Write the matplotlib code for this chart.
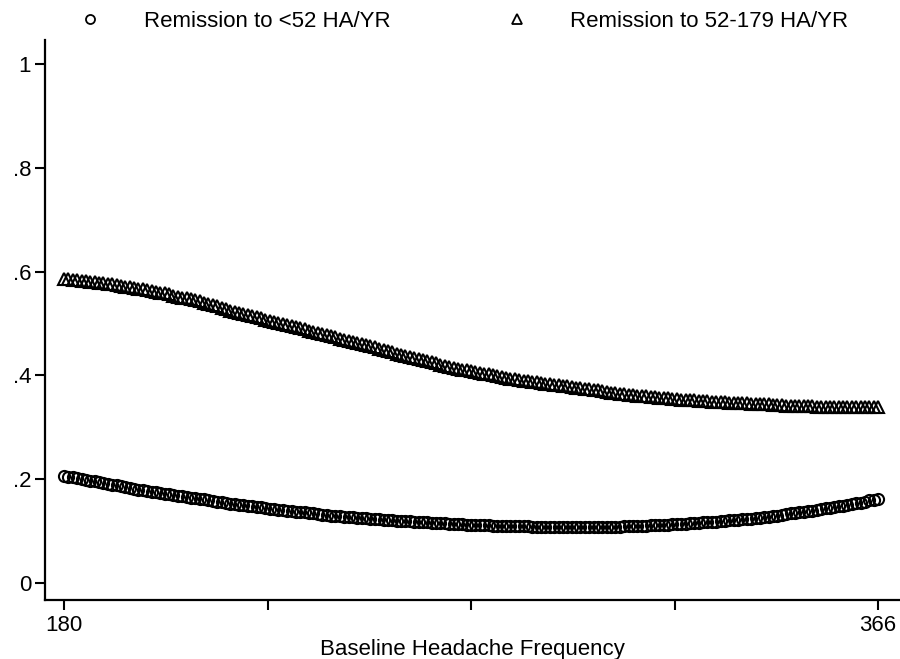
import numpy as np
import matplotlib.pyplot as plt
from matplotlib.lines import Line2D

plt.rcParams['font.family'] = ['Liberation Sans', 'DejaVu Sans']

# baseline headache frequency, one point per day count
freq = np.arange(180, 367)

# predicted probability, remission to 52-179 HA/YR (triangles)
remit_mid = [
    .586, .585, .584, .583, .582, .582, .581, .580, .579, .578,
    .577, .576, .574, .573, .571, .570, .569, .567, .566, .564,
    .563, .561, .559, .558, .556, .554, .552, .550, .549, .547,
    .545, .543, .540, .538, .535, .533, .530, .528, .525, .523,
    .520, .518, .516, .514, .512, .510, .507, .505, .503, .501,
    .499, .497, .495, .493, .491, .489, .486, .484, .482, .480,
    .478, .476, .474, .471, .469, .467, .465, .463, .460, .458,
    .456, .454, .451, .449, .447, .445, .442, .440, .438, .435,
    .433, .431, .429, .427, .425, .423, .421, .419, .417, .415,
    .413, .411, .410, .408, .407, .405, .403, .402, .400, .399,
    .397, .396, .394, .393, .392, .390, .389, .388, .387, .385,
    .384, .383, .382, .381, .380, .379, .377, .376, .375, .374,
    .373, .372, .371, .370, .369, .367, .366, .365, .364, .363,
    .362, .361, .360, .360, .359, .358, .357, .356, .356, .355,
    .354, .353, .353, .352, .352, .351, .350, .350, .349, .349,
    .348, .348, .347, .347, .346, .346, .346, .345, .345, .344,
    .344, .344, .343, .343, .343, .342, .342, .342, .341, .341,
    .341, .341, .340, .340, .340, .340, .340, .339, .339, .339,
    .339, .339, .339, .339, .339, .339, .339,
]

# predicted probability, remission to <52 HA/YR (circles)
remit_low = [
    .207, .205, .204, .202, .201, .199, .197, .196, .194, .192,
    .191, .189, .188, .186, .185, .183, .182, .180, .179, .177,
    .176, .175, .173, .172, .171, .170, .168, .167, .166, .164,
    .163, .162, .161, .159, .158, .157, .156, .155, .153, .152,
    .151, .150, .149, .148, .147, .146, .144, .143, .142, .141,
    .140, .139, .138, .137, .136, .136, .135, .134, .133, .132,
    .131, .130, .130, .129, .128, .128, .127, .126, .125, .125,
    .124, .123, .123, .122, .122, .121, .120, .120, .119, .119,
    .118, .118, .117, .117, .116, .116, .115, .115, .114, .114,
    .113, .113, .112, .112, .112, .111, .111, .111, .110, .110,
    .110, .110, .110, .109, .109, .109, .109, .108, .108, .108,
    .108, .108, .108, .108, .107, .107, .107, .107, .107, .107,
    .107, .107, .107, .107, .108, .108, .108, .108, .109, .109,
    .109, .109, .110, .110, .111, .111, .111, .112, .112, .113,
    .113, .114, .114, .115, .115, .116, .117, .117, .118, .118,
    .119, .120, .121, .121, .122, .123, .124, .124, .125, .126,
    .127, .128, .129, .130, .131, .133, .134, .135, .136, .137,
    .138, .139, .141, .142, .144, .145, .146, .148, .149, .151,
    .152, .154, .155, .157, .159, .160, .162,
]

yticks = [0, .2, .4, .6, .8, 1]
ylabels = ["0", ".2", ".4", ".6", ".8", "1"]
xticks = [180, 226.5, 273, 319.5, 366]
xlabels = ["180", "", "", "", "366"]

fig = plt.figure(figsize=(9, 6.59), dpi=100)
ax = fig.add_axes([0.05, 0.0895, 0.95, 0.8495])

ax.plot(freq, remit_low, ls='none', marker='o', ms=8, mfc='none', mec='black', mew=1.5)
ax.plot(freq, remit_mid, ls='none', marker='^', ms=8, mfc='none', mec='black', mew=1.5)

ax.set_xlim(175.66, 371.0)
ax.set_ylim(-0.0328, 1.046)
ax.set_yticks(yticks)
ax.set_yticklabels(ylabels)
ax.set_xticks(xticks)
ax.set_xticklabels(xlabels)
ax.tick_params(axis='both', length=7, width=1.5, labelsize=16, direction='out', pad=3)
ax.tick_params(axis='x', pad=4)
ax.set_xlabel("Baseline Headache Frequency", fontsize=16, labelpad=2)

for s in ['top', 'right']:
    ax.spines[s].set_visible(False)
for s in ['left', 'bottom']:
    ax.spines[s].set_linewidth(1.6)

handles = [
    Line2D([], [], ls='none', marker='o', ms=6.5, mfc='none', mec='black', mew=1.3),
    Line2D([], [], ls='none', marker='^', ms=6.5, mfc='none', mec='black', mew=1.3),
]
fig.legend(handles, ["Remission to <52 HA/YR", "Remission to 52-179 HA/YR"],
           loc='upper left', bbox_to_anchor=(0.0756, 0.983), ncol=2, frameon=False,
           fontsize=16, handletextpad=1.4, columnspacing=4.7,
           borderpad=0, borderaxespad=0)

plt.savefig("out.png", dpi=100)
